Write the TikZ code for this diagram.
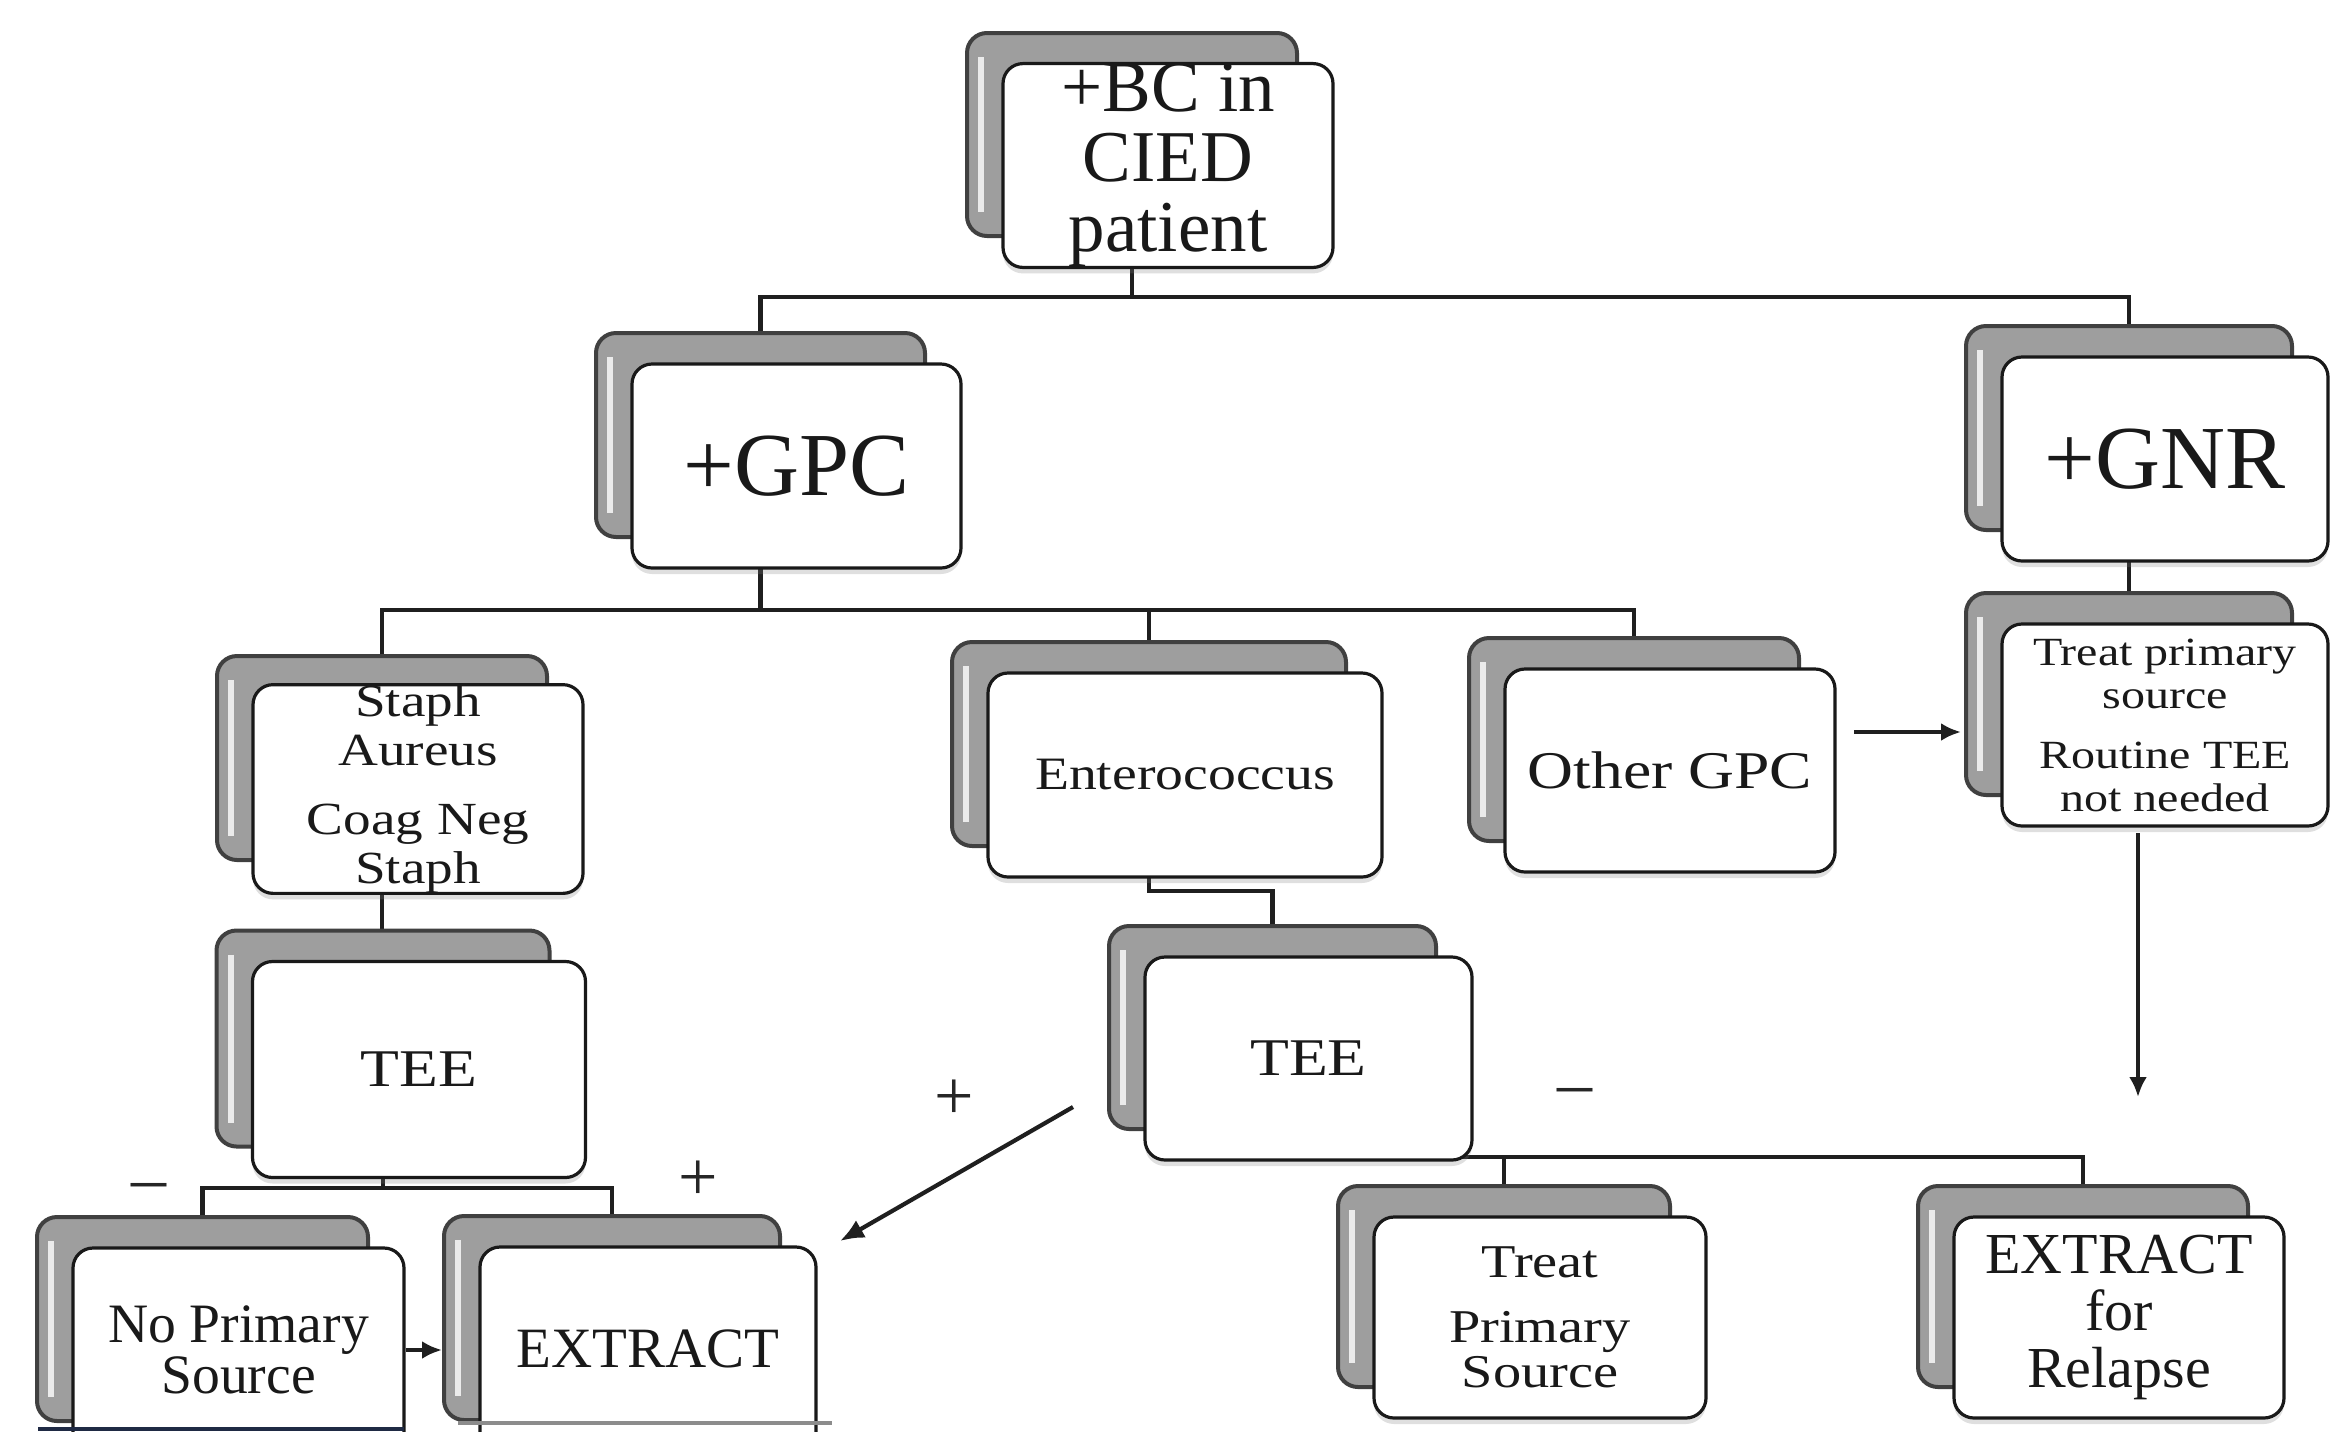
\documentclass[tikz,border=0pt]{standalone}
\usepackage{fontspec}
\setmainfont{Liberation Serif}
\newfontfamily\geo[FakeStretch=1.2]{Liberation Serif}
\usetikzlibrary{arrows.meta,shadows,calc}
\pgfdeclarelayer{bg}
\pgfsetlayers{bg,main}
\definecolor{scannavy}{HTML}{1F2A44}
\tikzset{
  backbox/.style={draw=black!75, line width=2pt, fill=black!38, rounded corners=10pt, inner sep=0pt,
     path picture={\draw[white!92!black, line width=3pt] ([xshift=7pt,yshift=-12pt]path picture bounding box.north west) -- ([xshift=7pt,yshift=12pt]path picture bounding box.south west);}},
  frontbox/.style={draw=black!90, line width=1.6pt, fill=white, rounded corners=10pt, inner sep=0pt, align=center, text=black!90,
     drop shadow={shadow xshift=0pt, shadow yshift=-3pt, opacity=0.25}},
  conn/.style={draw=black!88, line width=2.1pt},
  arr/.style={conn, -{Latex[length=10pt,width=9pt]}},
  bigarr/.style={conn, -{Latex[length=12pt,width=10pt]}},
  sign/.style={inner sep=0pt, font=\fontsize{35}{35}\selectfont, text=black!85},
}
\newcommand\dbox[7]{%
  \node[backbox, minimum width=#4*0.5pt, minimum height=#5*0.5pt] (#1b) at (#2-36,#3-31) {};
  \node[frontbox, minimum width=#4*0.5pt, minimum height=#5*0.5pt, font={#6}] (#1) at (#2,#3) {#7};
}
\begin{document}
\begin{tikzpicture}[x=0.5pt,y=-0.5pt]
\begin{pgfonlayer}{bg}
\fill[white] (0,0) rectangle (2330,1431);
\end{pgfonlayer}
\useasboundingbox (0,0) rectangle (2330,1431);

\dbox{root}{1168}{165.5}{330}{203}{\fontsize{36.5}{35}\selectfont}{+BC in\\CIED\\patient}
\dbox{gpc}{796.5}{466}{329}{204}{\fontsize{45}{45}\selectfont}{+GPC}
\dbox{gnr}{2165}{459}{326}{204}{\fontsize{45}{45}\selectfont}{+GNR}
\dbox{staph}{418}{789}{330}{204}{\geo\fontsize{23}{24.5}\selectfont}{Staph\\Aureus\\[10pt]Coag Neg\\Staph}
\dbox{entero}{1185}{775}{394}{204}{\geo\fontsize{23.2}{24}\selectfont}{Enterococcus}
\dbox{other}{1670}{770.5}{330}{203}{\geo\fontsize{26.5}{27}\selectfont}{Other GPC}
\dbox{treatp}{2165}{725}{326}{202}{\geo\fontsize{20}{21.5}\selectfont}{Treat primary\\source\\[8.5pt]Routine TEE\\not needed}
\dbox{teel}{419}{1069.5}{333}{216}{\geo\fontsize{26.5}{27}\selectfont}{TEE}
\dbox{teec}{1308.5}{1058.5}{327}{203}{\geo\fontsize{26.5}{27}\selectfont}{TEE}
\dbox{noprim}{238.5}{1350}{331}{204}{\fontsize{27.8}{23}\selectfont}{No Primary\\Source}
\dbox{extract}{648}{1349}{336}{204}{\fontsize{28.5}{30}\selectfont}{EXTRACT}
\dbox{treatq}{1540}{1317.5}{332}{201}{\geo\fontsize{23.5}{22.5}\selectfont}{Treat\\[10pt]Primary\\Source}
\dbox{relapse}{2119}{1317.5}{330}{201}{\fontsize{29}{28.5}\selectfont}{EXTRACT\\for\\Relapse}

\coordinate (bus0) at (0,297);
\coordinate (bus1) at (0,610);
\coordinate (bus2) at (0,891);
\coordinate (bus3) at (0,1188);
\coordinate (bus4) at (0,1157);

\begin{pgfonlayer}{bg}
\draw[conn] (rootb.south) -- (rootb.south |- bus0) -| (gpcb.north);
\draw[conn] (rootb.south |- bus0) -| (gnrb.north);
\draw[conn] (gnrb.south) -- (gnrb.south |- treatpb.north);
\draw[conn] (gpcb.south) -- (gpcb.south |- bus1) -| (staphb.north);
\draw[conn] (gpcb.south |- bus1) -| (enterob.north);
\draw[conn] (gpcb.south |- bus1) -| (otherb.north);
\draw[conn] (staphb.south) -- (staphb.south |- teelb.north);
\draw[conn] (enterob.south) -- (enterob.south |- bus2) -| (teecb.north);
\draw[conn] (teelb.south) -- (teelb.south |- bus3) -| (noprimb.north);
\draw[conn] (teelb.south |- bus3) -| (extractb.north);
\draw[conn] (teecb.south) -- (teecb.south |- bus4) -| (treatqb.north);
\draw[conn] (teecb.south |- bus4) -| (relapseb.north);
\end{pgfonlayer}

\coordinate (o1) at (1854,732);
\coordinate (o2) at (1961,732);
\coordinate (v1) at (2138,833);
\coordinate (v2) at (2138,1097);
\coordinate (p1) at (1073,1107);
\coordinate (p2) at (840,1241);
\draw[arr] (o1) -- (o2);
\draw[arr] (v1) -- (v2);
\draw[bigarr] (p1) -- (p2);
\draw[arr] (noprim.east) -- (noprim.east -| extractb.west);

\node[sign] (plus1) at (954,1100) {+};
\node[sign] (minus1) at (1575,1097) {–};
\node[sign] (minus2) at (149,1192) {–};
\node[sign] (plus2) at (698,1181) {+};

\draw[line width=2pt, draw=scannavy] (38,1429) -- (404,1429);
\draw[line width=2pt, draw=black!45] (458,1423) -- (832,1423);
\end{tikzpicture}
\end{document}
